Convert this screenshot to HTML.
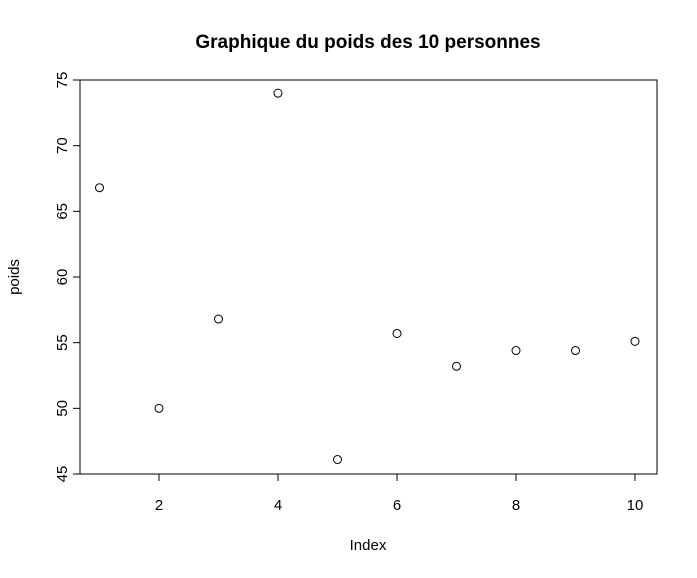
<!DOCTYPE html>
<html><head><meta charset="utf-8"><style>
body{margin:0;background:#fff;}
svg text{font-family:"Liberation Sans",Arial,sans-serif;fill:#000;}
</style></head><body>
<svg id="chart" width="697" height="573" viewBox="0 0 697 573" xmlns="http://www.w3.org/2000/svg">
<text x="368" y="48" text-anchor="middle" font-size="19" font-weight="bold">Graphique du poids des 10 personnes</text>
<rect x="80" y="80" width="577" height="394" fill="none" stroke="#000" stroke-width="1"/>
<g id="xaxis"></g>
<g id="yaxis"></g>
<g id="points"></g>
<text x="368" y="550" text-anchor="middle" font-size="15">Index</text>
<text transform="translate(19,277) rotate(-90)" text-anchor="middle" font-size="15">poids</text>
</svg>
<script>
const indexes=[1,2,3,4,5,6,7,8,9,10];
const poids=[66.8,50.0,56.8,74.0,46.1,55.7,53.2,54.4,54.4,55.1];
const xTicks=[2,4,6,8,10];
const yTicks=[45,50,55,60,65,70,75];
const NS="http://www.w3.org/2000/svg";
function xs(v){return 99.5+(v-1)*59.5;}
function ys(v){return 474-(v-45)*(394/30);}
function mk(t,a,p){const e=document.createElementNS(NS,t);for(const k in a)e.setAttribute(k,a[k]);p.appendChild(e);return e;}
const xa=document.getElementById('xaxis'),ya=document.getElementById('yaxis'),pg=document.getElementById('points');
xTicks.forEach(v=>{
 const l=mk('line',{x1:xs(v),x2:xs(v),y1:474,y2:481,stroke:'#000'},xa);
 
 
 const t=mk('text',{x:xs(v),y:510,'text-anchor':'middle','font-size':'15'},xa);
 t.textContent=v;
 
 
});
yTicks.forEach(v=>{
 const l=mk('line',{x1:73,x2:80,y1:ys(v),y2:ys(v),stroke:'#000'},ya);
 
 
 const t=mk('text',{transform:`translate(67,${ys(v)}) rotate(-90)`,'text-anchor':'middle','font-size':'15'},ya);
 t.textContent=v;
 
 
});
indexes.forEach((x,i)=>{
 const c=mk('circle',{cx:xs(x),cy:ys(poids[i]),r:4,fill:'none',stroke:'#000','stroke-width':1},pg);
 
 
});
</script>
</body></html>
